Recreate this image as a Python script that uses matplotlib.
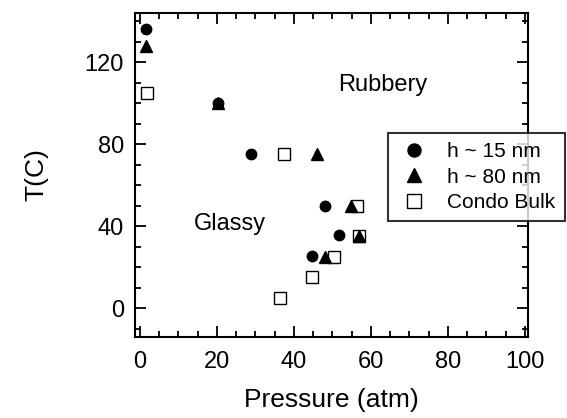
import matplotlib.pyplot as plt
from matplotlib.ticker import MultipleLocator

plt.rcParams['font.family'] = ['Liberation Sans', 'DejaVu Sans']

# h ~ 15 nm
p_15 = [1.7, 20.2, 28.8, 48.0, 51.8, 44.7]
t_15 = [136, 100, 75, 50, 35.5, 25.5]
# h ~ 80 nm
p_80 = [1.7, 20.2, 46.0, 54.8, 57.0, 48.0]
t_80 = [128, 100, 75, 50, 35, 25]
# Condo bulk
p_bulk = [1.9, 37.5, 56.5, 57.0, 50.5, 44.7, 36.5]
t_bulk = [105, 75, 50, 35, 25, 15, 5]

fig = plt.figure(figsize=(5.67, 4.18), dpi=100)
ax = fig.add_axes([0.238, 0.194, 0.693, 0.775])

ax.plot(p_15, t_15, 'o', color='black', markersize=7.5, label='h ~ 15 nm', zorder=3)
ax.plot(p_80, t_80, '^', color='black', markersize=8, label='h ~ 80 nm', zorder=4)
ax.plot(p_bulk, t_bulk, 's', markerfacecolor='white', markeredgecolor='black',
        markeredgewidth=1.0, markersize=8, label='Condo Bulk', zorder=2)

ax.set_xlim(-1.3, 100.8)
ax.set_ylim(-14, 144)
ax.xaxis.set_major_locator(MultipleLocator(20))
ax.xaxis.set_minor_locator(MultipleLocator(5))
ax.yaxis.set_major_locator(MultipleLocator(40))
ax.yaxis.set_minor_locator(MultipleLocator(10))
ax.tick_params(which='both', direction='in', top=True, right=True, width=1.3)
ax.tick_params(which='major', length=8, labelsize=17)
ax.tick_params(axis='x', which='major', pad=10)
ax.tick_params(axis='y', which='major', pad=8)
ax.tick_params(which='minor', length=4)
for s in ax.spines.values():
    s.set_linewidth(1.5)

ax.set_xlabel('Pressure (atm)', fontsize=19, labelpad=11)
ax.set_ylabel('T(C)', fontsize=19, labelpad=26)

ax.text(63, 109, 'Rubbery', fontsize=17, ha='center', va='center')
ax.text(23.5, 41, 'Glassy', fontsize=17, ha='center', va='center')

leg = fig.legend(loc='upper left', bbox_to_anchor=(0.684, 0.682), borderaxespad=0,
                 fontsize=15, frameon=True, fancybox=False, handletextpad=0.8,
                 labelspacing=0.3, borderpad=0.45, handlelength=1.6, markerscale=1.25)
leg.get_frame().set_edgecolor('black')
leg.get_frame().set_linewidth(1.5)

fig.savefig('out.png', dpi=100)
